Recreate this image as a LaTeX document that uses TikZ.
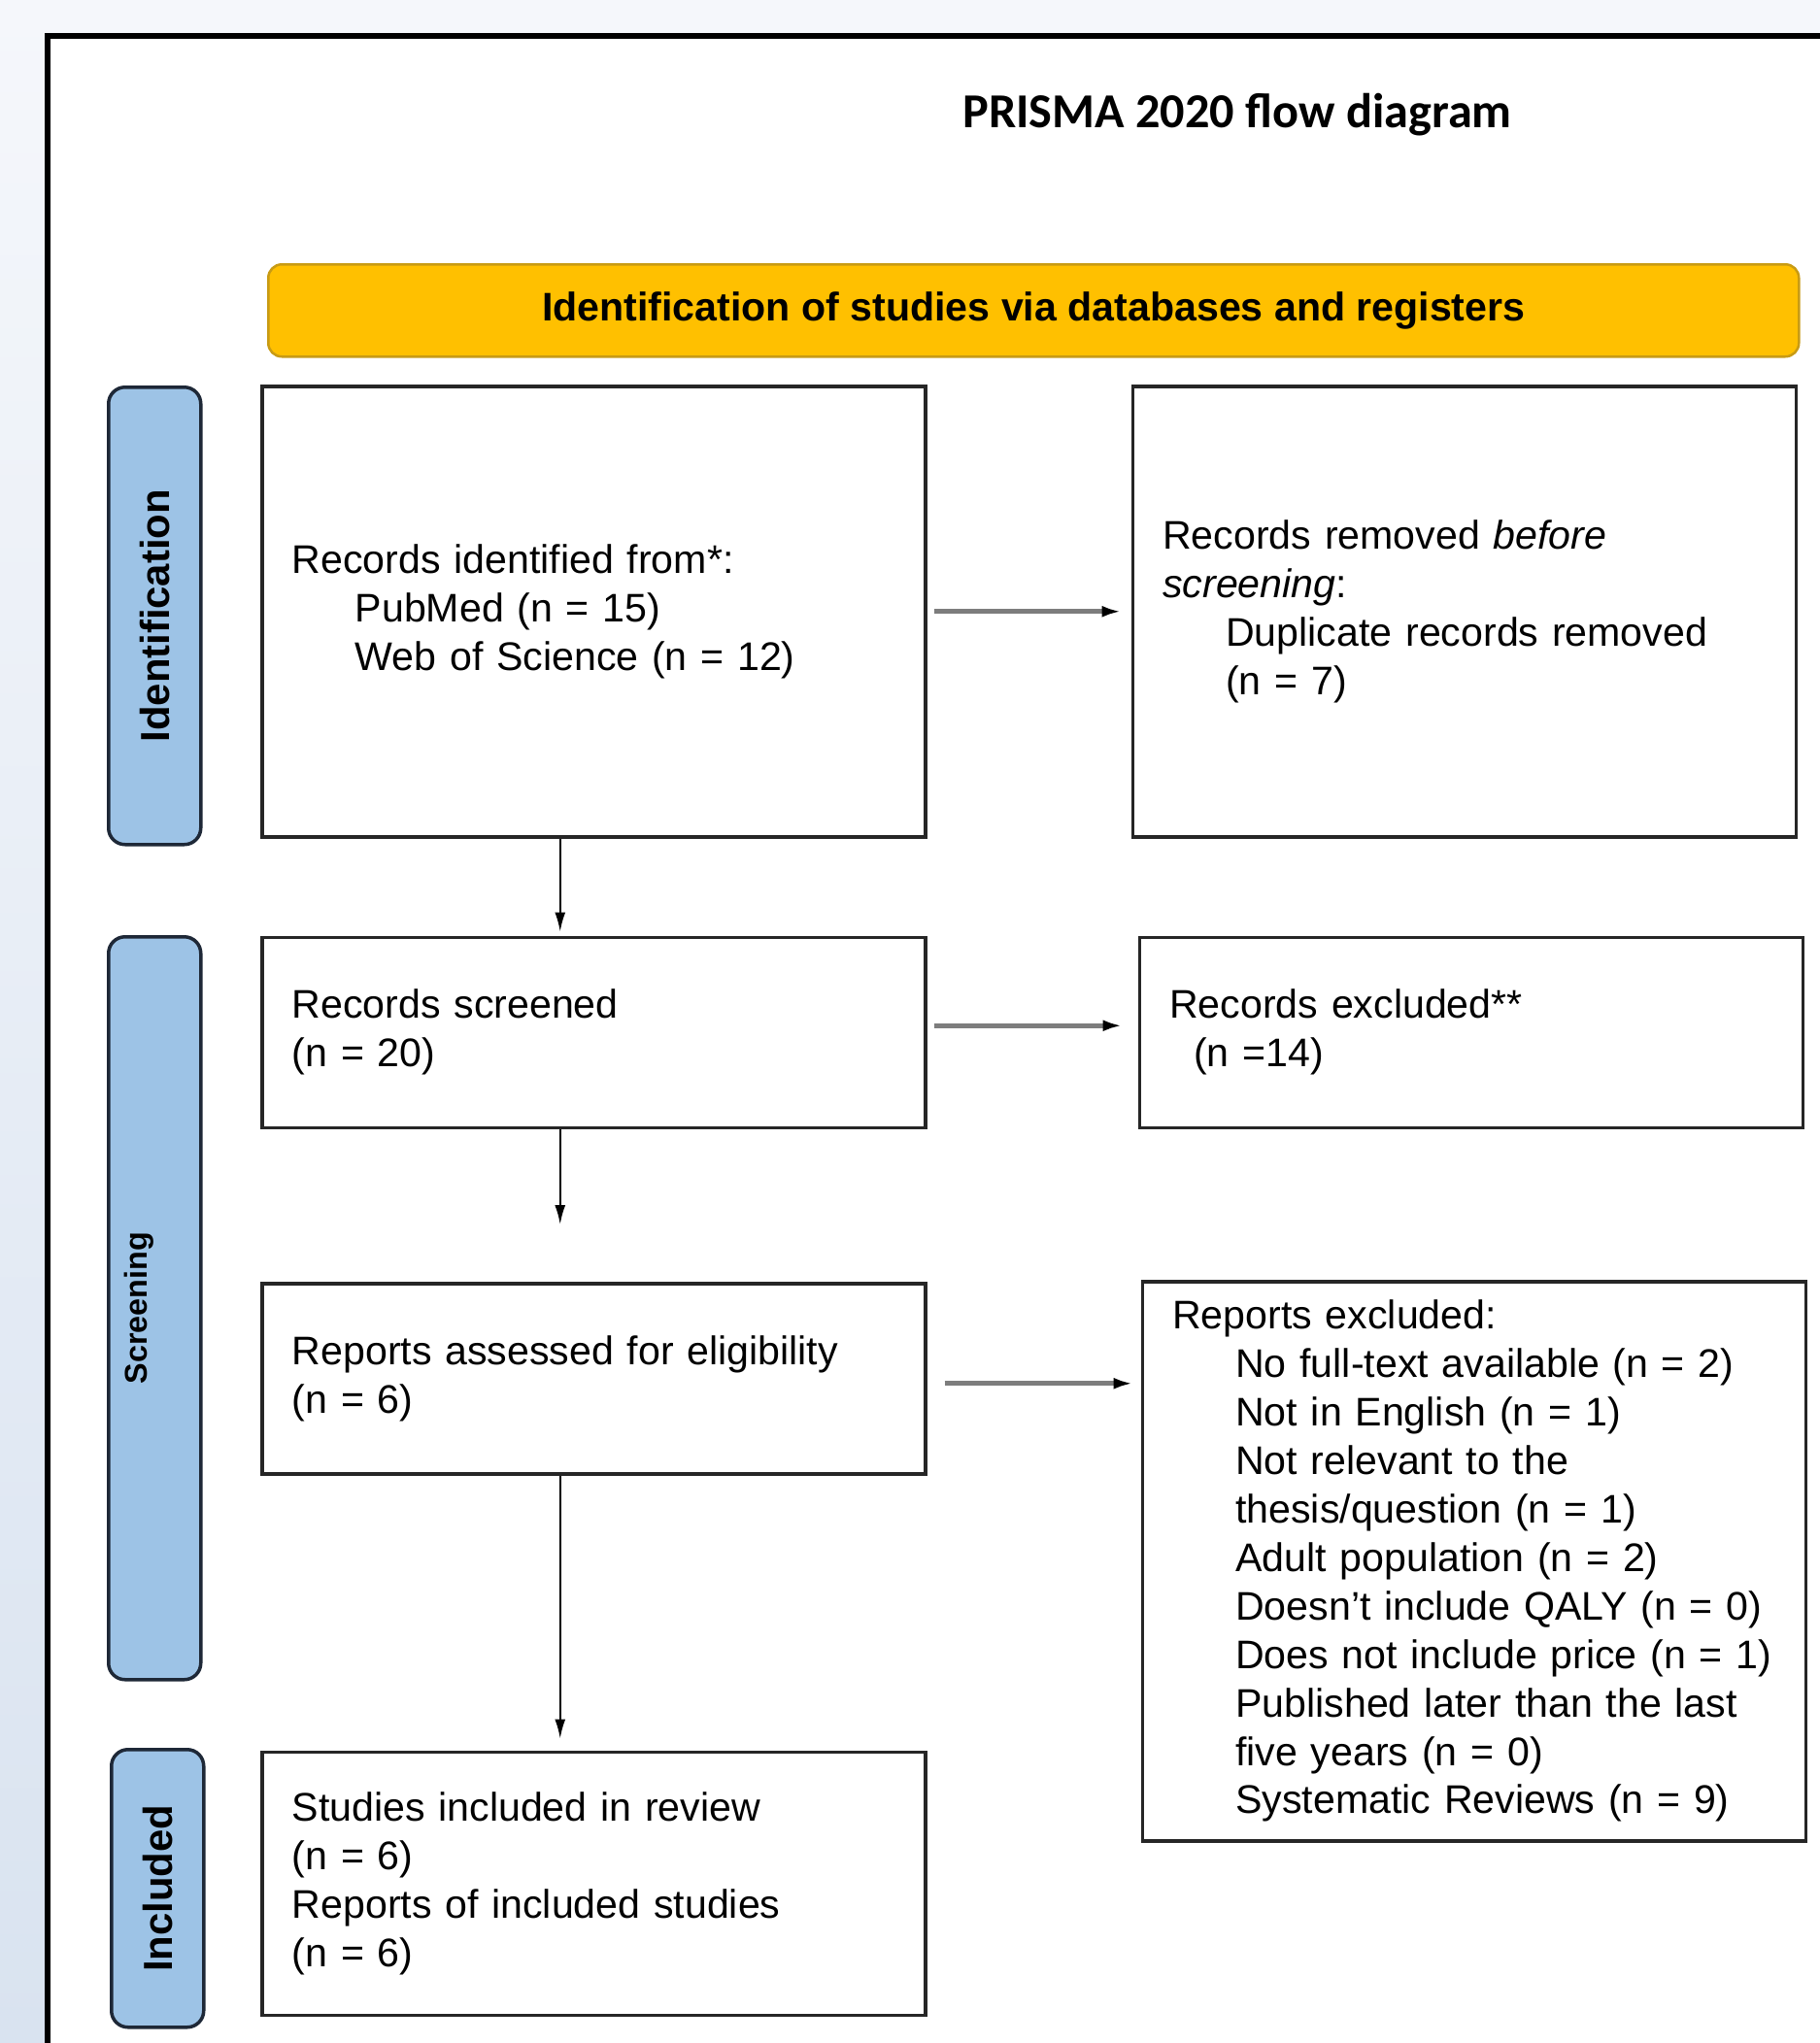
\documentclass[tikz,border=0pt]{standalone}
\usepackage{fontspec}
\setmainfont{Liberation Sans}
\newfontfamily\titlefont{Carlito}
\usepackage{tikz}
\usetikzlibrary{arrows.meta, positioning, calc}
\definecolor{cBgTop}{RGB}{245,247,251}
\definecolor{cBgBot}{RGB}{217,227,240}
\definecolor{cGold}{RGB}{255,192,0}
\definecolor{cGoldLine}{RGB}{200,155,20}
\definecolor{cTab}{RGB}{157,195,230}
\definecolor{cTabLine}{RGB}{30,40,55}
\definecolor{cArrow}{RGB}{125,125,125}
\newcommand{\indentln}{\hspace*{0.65cm}}
\tikzset{
	stagebox/.style ={rectangle, draw=black!85, line width=0.035cm, fill=white, minimum width=6.83cm, text width=6.21cm, inner xsep=0.31cm, align=left, font=\fontsize{11.7}{14.2}\selectfont},
	headbar/.style  ={rectangle, rounded corners=0.14cm, draw=cGoldLine, line width=0.025cm, fill=cGold, minimum width=15.76cm, minimum height=0.95cm, font=\bfseries\fontsize{11.7}{14}\selectfont},
	phasetab/.style ={rectangle, rounded corners=0.17cm, draw=cTabLine, line width=0.035cm, fill=cTab, minimum width=0.95cm},
	phaselbl/.style ={rotate=90, inner sep=0pt, font=\bfseries\fontsize{11.9}{14}\selectfont},
	% connectors
	downarrow/.style={-{Latex[length=0.2cm, width=0.11cm]}, line width=0.02cm, black},
	sidearrow/.style={-{Latex[length=0.2cm, width=0.12cm, color=black]}, line width=0.05cm, cArrow},
}

\begin{document}
\begin{tikzpicture}
	\useasboundingbox (0,0) rectangle (18.74,-21.04);
	\clip (0,0) rectangle (18.74,-21.04);
	\shade[top color=cBgTop, bottom color=cBgBot] (0,0) rectangle (18.74,-21.04);
	\draw[line width=0.055cm, fill=white] (0.49,-0.37) rectangle (19.5,-21.6);

	\node[font=\titlefont\bfseries\fontsize{14.3}{17}\selectfont] (title) at (12.74,-1.18) {PRISMA 2020 flow diagram};
	\node[headbar, anchor=north west] (head) at (2.75,-2.71) {Identification of studies via databases and registers};

	% phase tabs
	\node[phasetab, minimum height=4.71cm, anchor=north west] (tabId) at (1.10,-3.97) {};
	\node[phaselbl] (lblId) at (tabId.center) {Identification};
	\node[phasetab, minimum height=7.65cm, anchor=north west] (tabScr) at (1.10,-9.63) {};
	\node[phaselbl, font=\bfseries\fontsize{9.2}{11}\selectfont] (lblScr) at ([xshift=-0.16cm]tabScr.center) {Screening};
	\node[phasetab, minimum height=2.86cm, anchor=north west] (tabInc) at (1.13,-18.00) {};
	\node[phaselbl] (lblInc) at (tabInc.center) {Included};

	% boxes
	\node[stagebox, minimum height=4.64cm, anchor=north west] (recId) at (2.68,-3.96)
		{Records identified from*:\\ \indentln PubMed (n = 15)\\ \indentln Web of Science (n = 12)};
	\node[stagebox, minimum height=4.64cm, right=2.10cm of recId] (recDup)
		{Records removed \emph{before}\\ \emph{screening}:\\ \indentln Duplicate records removed\\ \indentln (n = 7)};
	\node[stagebox, minimum height=1.96cm, below=1.00cm of recId] (recScr)
		{Records screened\\ (n = 20)};
	\node[stagebox, minimum height=1.96cm, right=2.17cm of recScr] (recExc)
		{Records excluded**\\ \hspace*{0.25cm}(n =14)};
	\node[stagebox, minimum height=1.96cm, below=1.57cm of recScr] (repAss)
		{Reports assessed for eligibility\\ (n = 6)};
	\node[stagebox, minimum height=5.76cm, anchor=north west] (repExc) at ([xshift=2.20cm, yshift=0.02cm]repAss.north east)
		{Reports excluded:\\
		\indentln No full-text available (n = 2)\\
		\indentln Not in English (n = 1)\\
		\indentln Not relevant to the\\
		\indentln thesis/question (n = 1)\\
		\indentln Adult population (n = 2)\\
		\indentln Doesn’t include QALY (n = 0)\\
		\indentln Does not include price (n = 1)\\
		\indentln Published later than the last\\
		\indentln five years (n = 0)\\
		\indentln Systematic Reviews (n = 9)};
	\node[stagebox, minimum height=2.71cm, below=2.83cm of repAss] (incl)
		{Studies included in review\\ (n = 6)\\ Reports of included studies\\ (n = 6)};

	% connectors
	\draw[sidearrow, shorten <=0.07cm, shorten >=0.10cm] (recId.east) -- (recId.east -| recDup.west);
	\draw[sidearrow, shorten <=0.07cm, shorten >=0.16cm] ([yshift=0.07cm]recScr.east) -- ([yshift=0.07cm]recScr.east -| recExc.west);
	\draw[sidearrow, shorten <=0.18cm, shorten >=0.08cm] ([yshift=-0.05cm]repAss.east) -- ([yshift=-0.05cm]repAss.east -| repExc.west);
	\draw[downarrow, shorten >=0.04cm] ([xshift=-0.345cm]recId.south) -- ([xshift=-0.345cm]recScr.north);
	\draw[downarrow, shorten >=0.59cm] ([xshift=-0.345cm]recScr.south) -- ([xshift=-0.345cm]repAss.north);
	\draw[downarrow, shorten >=0.12cm] ([xshift=-0.345cm]repAss.south) -- ([xshift=-0.345cm]incl.north);
\end{tikzpicture}
\end{document}
